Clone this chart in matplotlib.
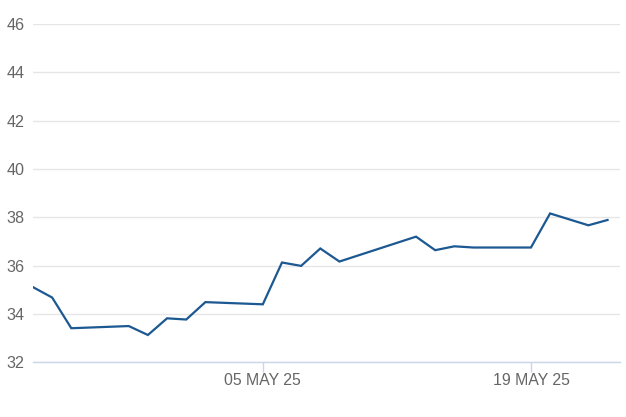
import matplotlib.pyplot as plt
import matplotlib.dates as mdates
import numpy as np
import pandas as pd

# price series
dates = pd.to_datetime([
    "2025-04-23", "2025-04-24", "2025-04-25", "2025-04-28", "2025-04-29",
    "2025-04-30", "2025-05-01", "2025-05-02", "2025-05-05", "2025-05-06",
    "2025-05-07", "2025-05-08", "2025-05-09", "2025-05-13", "2025-05-14",
    "2025-05-15", "2025-05-16", "2025-05-19", "2025-05-20", "2025-05-22",
    "2025-05-23",
])
values = [
    35.11, 34.68, 33.41, 33.50, 33.13,
    33.82, 33.77, 34.49, 34.40, 36.13,
    35.99, 36.71, 36.17, 37.20, 36.64,
    36.80, 36.75, 36.75, 38.16, 37.67,
    37.89,
]
y_ticks = [32, 34, 36, 38, 40, 42, 44, 46]
x_ticks = pd.to_datetime(["2025-05-05", "2025-05-19"])

plt.rcParams['font.family'] = ['Liberation Sans', 'DejaVu Sans']

fig = plt.figure(figsize=(6.26, 4.17), dpi=100)
ax = fig.add_axes([33 / 626, 1 - 362.3 / 417, (620 - 33) / 626, (362.3 - 24) / 417])

ax.plot(dates, values, color='#1c5891', linewidth=1.6, solid_joinstyle='miter')

ax.set_ylim(32, 46)
ax.set_yticks(y_ticks)
start = dates[0]
ax.set_xlim(start, start + pd.Timedelta(days=30.65))
ax.set_xticks(x_ticks)
ax.xaxis.set_major_formatter(
    plt.FuncFormatter(lambda x, _: mdates.num2date(x).strftime('%d %b %y').upper()))

ax.grid(axis='y', color='#e6e6e6', linewidth=1)
ax.set_axisbelow(True)
for side in ['top', 'right', 'left']:
    ax.spines[side].set_visible(False)
ax.spines['bottom'].set_color('#ccd6eb')
ax.spines['bottom'].set_linewidth(1)

ax.tick_params(axis='y', length=0, pad=6, labelsize=11.6, labelcolor='#666666')
ax.tick_params(axis='x', length=7, width=1, color='#ccd6eb', pad=1,
               labelsize=11.4, labelcolor='#666666')

fig.savefig('out.png', dpi=100)
